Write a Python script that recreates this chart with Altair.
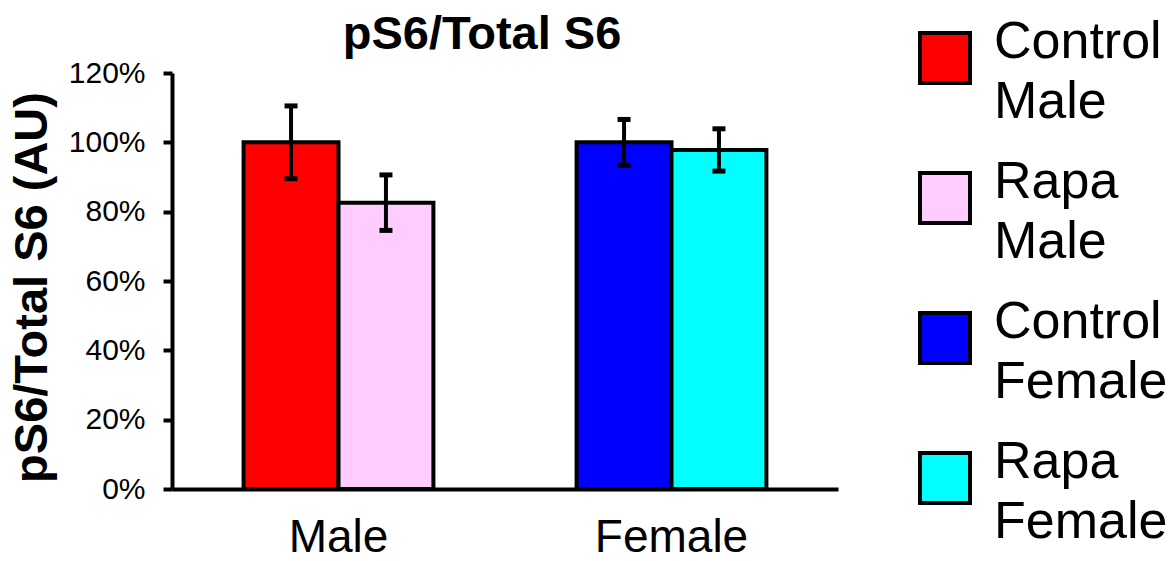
import altair as alt
import pandas as pd

groups = ["Male", "Male", "Female", "Female"]
treatments = ["Control", "Rapa", "Control", "Rapa"]
labels = ["Control Male", "Rapa Male", "Control Female", "Rapa Female"]
means = [1.000, 0.826, 1.000, 0.978]
errs = [0.105, 0.080, 0.066, 0.061]
colors = ["#ff0000", "#ffccff", "#0000ff", "#00ffff"]
y_ticks = [0, 0.2, 0.4, 0.6, 0.8, 1.0, 1.2]

df = pd.DataFrame({
    "group": groups,
    "treatment": treatments,
    "label": labels,
    "mean": means,
    "lo": [m - e for m, e in zip(means, errs)],
    "hi": [m + e for m, e in zip(means, errs)],
})

FONT = "Liberation Sans"

x_enc = alt.X("group:N", sort=["Male", "Female"], title=None,
              scale=alt.Scale(paddingInner=0.43, paddingOuter=0.215),
              axis=alt.Axis(labelFontSize=46, labelFont=FONT, labelColor="black",
                            labelPadding=26, ticks=False, domainWidth=4,
                            domainColor="black", labelAngle=0))
xo_enc = alt.XOffset("treatment:N", sort=["Control", "Rapa"],
                     scale=alt.Scale(paddingInner=0, paddingOuter=0))

base = alt.Chart(df)

bars = base.mark_bar(stroke="black", strokeWidth=4).encode(
    x=x_enc,
    xOffset=xo_enc,
    y=alt.Y("mean:Q", title="pS6/Total S6 (AU)",
            scale=alt.Scale(domain=[0, 1.2], nice=False),
            axis=alt.Axis(values=y_ticks, format=".0%", labelFontSize=30,
                          labelFont=FONT, labelColor="black", labelPadding=18,
                          tickSize=9, tickWidth=4, tickColor="black",
                          domainWidth=4, domainColor="black", grid=False,
                          titleFontSize=47, titleFont=FONT, titleFontWeight="bold",
                          titleColor="black", titlePadding=12, titleY=214)),
    color=alt.Color("label:N", sort=labels,
                    scale=alt.Scale(domain=labels, range=colors),
                    legend=alt.Legend(title=None, orient="none", legendX=746, legendY=-42,
                                      symbolType="square", symbolSize=2500,
                                      symbolStrokeColor="black", symbolStrokeWidth=4,
                                      symbolOpacity=1,
                                      labelExpr="split(datum.label, ' ')",
                                      labelFontSize=52, labelFont=FONT,
                                      labelColor="black", labelLimit=400,
                                      labelBaseline="alphabetic",
                                      labelOffset=22, rowPadding=28)),
)

rules = base.mark_rule(color="black", strokeWidth=4).encode(
    x=x_enc, xOffset=xo_enc, y="lo:Q", y2="hi:Q")

caps_hi = base.mark_tick(color="black", thickness=5, size=13, opacity=1).encode(
    x=x_enc, xOffset=xo_enc, y="hi:Q")
caps_lo = base.mark_tick(color="black", thickness=5, size=13, opacity=1).encode(
    x=x_enc, xOffset=xo_enc, y="lo:Q")

chart = alt.layer(bars, rules, caps_hi, caps_lo).properties(
    width=666, height=416,
    title=alt.TitleParams("pS6/Total S6", fontSize=47, font=FONT, fontWeight="bold",
                          color="black", anchor="middle", dx=-23, offset=-28),
    autosize=alt.AutoSizeParams(type="none"),
    padding={"left": 172, "top": 73, "right": 337, "bottom": 72},
).configure(
    background="white",
    view=alt.ViewConfig(stroke=None),
    style={"guide-label": {"lineHeight": 60}},
)

chart.save("out.html", embed_options={"renderer": "svg", "actions": False})
